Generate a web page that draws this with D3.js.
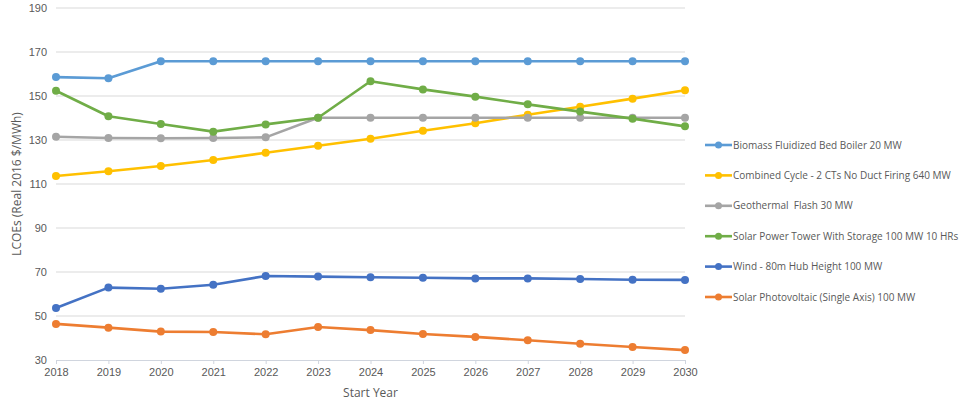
<!DOCTYPE html>
<html>
<head>
<meta charset="UTF-8">
<script src="https://d3js.org/d3.v7.min.js"></script>
<style>
    body { margin: 0; background: #fff; font-family: "Open Sans", sans-serif; }
    .tick text { fill: #595959; font-size: 11px; }
</style>
</head>
<body>
<div id="chart"></div>
<script>
    // 数据
    const years = [2018, 2019, 2020, 2021, 2022, 2023, 2024, 2025, 2026, 2027, 2028, 2029, 2030];
    const seriesNames = [
        "Biomass Fluidized Bed Boiler 20 MW",
        "Combined Cycle - 2 CTs No Duct Firing 640 MW",
        "Geothermal  Flash 30 MW",
        "Solar Power Tower With Storage 100 MW 10 HRs",
        "Wind - 80m Hub Height 100 MW",
        "Solar Photovoltaic (Single Axis) 100 MW"
    ];
    const biomass = [158.6, 158.1, 165.8, 165.8, 165.8, 165.8, 165.8, 165.8, 165.8, 165.8, 165.8, 165.8, 165.8];
    const combinedCycle = [113.6, 115.8, 118.2, 120.9, 124.2, 127.4, 130.6, 134.2, 137.6, 141.5, 145.1, 148.8, 152.6];
    const geothermal = [131.5, 130.9, 130.8, 130.9, 131.2, 140.1, 140.1, 140.1, 140.1, 140.1, 140.1, 140.1, 140.1];
    const solarTower = [152.4, 140.8, 137.3, 133.8, 137.1, 140.1, 156.7, 153.0, 149.7, 146.2, 142.9, 139.7, 136.2];
    const wind = [53.6, 62.9, 62.4, 64.2, 68.2, 67.9, 67.6, 67.4, 67.1, 67.1, 66.8, 66.5, 66.4];
    const solarPV = [46.4, 44.7, 42.9, 42.7, 41.7, 45.0, 43.6, 41.8, 40.5, 39.0, 37.4, 35.9, 34.5];
    const colors = ["#5B9BD5", "#FFC000", "#A5A5A5", "#70AD47", "#4472C4", "#ED7D31"];
    const yTicks = [30, 50, 70, 90, 110, 130, 150, 170, 190];

    const series = [biomass, combinedCycle, geothermal, solarTower, wind, solarPV];

    const width = 978, height = 405;
    const margin = { left: 56, right: 293, top: 8, bottom: 45 };

    const svg = d3.select("#chart").append("svg")
        .attr("width", width)
        .attr("height", height);

    const x = d3.scalePoint()
        .domain(years)
        .range([margin.left, width - margin.right]);

    const y = d3.scaleLinear()
        .domain([30, 190])
        .range([height - margin.bottom, margin.top]);

    // 网格线
    svg.append("g")
        .selectAll("line")
        .data(yTicks.slice(1))
        .enter().append("line")
        .attr("x1", margin.left)
        .attr("x2", width - margin.right)
        .attr("y1", d => y(d))
        .attr("y2", d => y(d))
        .attr("stroke", "#d9d9d9")
        .attr("stroke-width", 1);

    // Y轴
    const yAxis = svg.append("g")
        .attr("transform", `translate(${margin.left},0)`)
        .call(d3.axisLeft(y).tickValues(yTicks).tickSize(0).tickPadding(9));
    yAxis.select(".domain").remove();

    // X轴
    const xAxis = svg.append("g")
        .attr("transform", `translate(0,${y(30)})`)
        .call(d3.axisBottom(x).tickSize(4).tickPadding(4).tickSizeOuter(0));
    xAxis.select(".domain").attr("stroke", "#d0d5de");
    xAxis.selectAll(".tick line").attr("stroke", "#d0d5de");

    // 轴标题
    svg.append("text")
        .attr("x", (margin.left + width - margin.right) / 2)
        .attr("y", 397)
        .attr("text-anchor", "middle")
        .attr("fill", "#595959")
        .style("font-size", "12px")
        .text("Start Year");

    svg.append("text")
        .attr("transform", `translate(21,${y(110)}) rotate(-90)`)
        .attr("text-anchor", "middle")
        .attr("fill", "#595959")
        .style("font-size", "12px")
        .text("LCOEs (Real 2016 $/MWh)");

    const line = d3.line()
        .x((d, i) => x(years[i]))
        .y(d => y(d));

    // 折线与标记点
    series.forEach((vals, k) => {
        const g = svg.append("g");
        g.append("path")
            .datum(vals)
            .attr("fill", "none")
            .attr("stroke", colors[k])
            .attr("stroke-width", 2.6)
            .attr("stroke-linejoin", "round")
            .attr("d", line);
        g.selectAll("circle")
            .data(vals)
            .enter().append("circle")
            .attr("cx", (d, i) => x(years[i]))
            .attr("cy", d => y(d))
            .attr("r", 4)
            .attr("fill", colors[k]);
    });

    // 图例
    const legend = svg.append("g").attr("transform", "translate(705,145)");
    seriesNames.forEach((name, k) => {
        const item = legend.append("g").attr("transform", `translate(0,${k * 30.4})`);
        item.append("line")
            .attr("x1", 0).attr("x2", 27)
            .attr("stroke", colors[k])
            .attr("stroke-width", 2.6);
        item.append("circle")
            .attr("cx", 13.5).attr("r", 3.5)
            .attr("fill", colors[k]);
        item.append("text")
            .attr("x", 28)
            .attr("dy", "0.35em")
            .attr("fill", "#595959")
            .style("font-size", "10px")
            .style("white-space", "pre")
            .text(name);
    });
</script>
</body>
</html>
